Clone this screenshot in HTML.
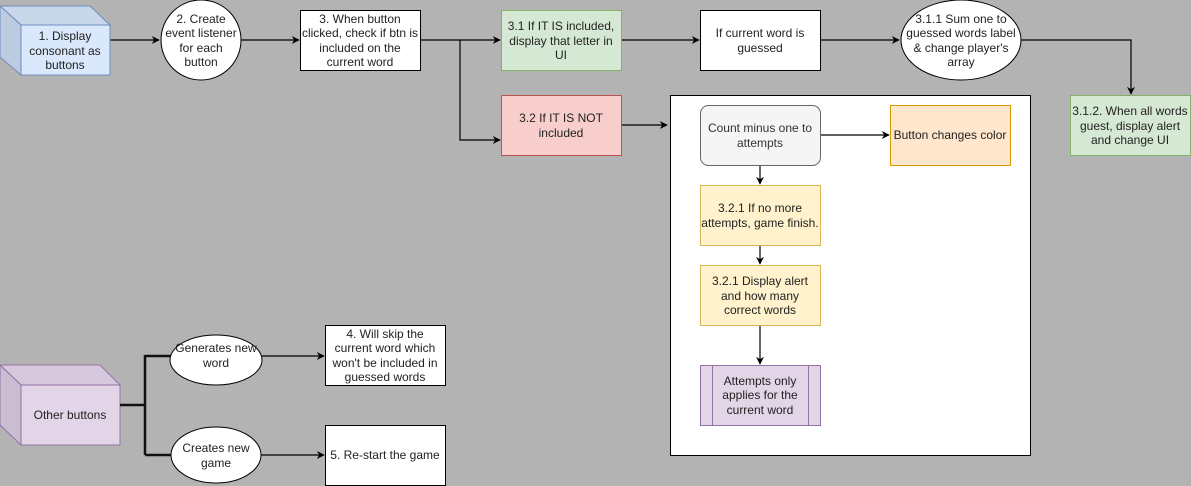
<!DOCTYPE html>
<html><head><meta charset="utf-8"><style>
html,body{margin:0;padding:0;background:#b3b3b3;}
svg{display:block;}
text{font-family:"Liberation Sans",Arial,sans-serif;font-size:12px;fill:#222;text-anchor:middle;}
</style></head><body>
<svg width="1191" height="486" viewBox="0 0 1191 486" xmlns="http://www.w3.org/2000/svg">
<defs>
<marker id="a" viewBox="0 0 10 10" refX="9" refY="5" markerWidth="8" markerHeight="8" orient="auto" markerUnits="userSpaceOnUse"><path d="M0,0 L10,5 L0,10 L3,5 z" fill="#000"/></marker>
</defs>
<rect x="0" y="0" width="1191" height="486" fill="#b3b3b3"/>
<g stroke="#000" stroke-width="1.2" fill="none">
<path d="M90,40 H159" marker-end="url(#a)"/>
<path d="M241,40 H299" marker-end="url(#a)"/>
<path d="M420,40 H500" marker-end="url(#a)"/>
<path d="M460,40 V140 H500" marker-end="url(#a)"/>
<path d="M621,40 H699" marker-end="url(#a)"/>
<path d="M820,40 H899" marker-end="url(#a)"/>
<path d="M1021,40 H1131 V94" marker-end="url(#a)"/>
<path d="M621,125 H667" marker-end="url(#a)"/>
</g>
<!-- cube 1 -->
<polygon points="0,6 90,6 110,25 21,25" fill="#c9d7ea" stroke="#6c8ebf"/>
<polygon points="0,6 21,25 21,75 0,57" fill="#bccbe0" stroke="#6c8ebf"/>
<rect x="21" y="25" width="89" height="50" fill="#dae8fc" stroke="#6c8ebf"/>
<text x="65" y="40">1. Display</text><text x="65" y="55">consonant  as</text><text x="65" y="69">buttons</text>
<ellipse cx="201" cy="40" rx="40" ry="40" fill="#fff" stroke="#000"/>
<text x="201" y="23">2. Create</text><text x="201" y="37">event listener</text><text x="201" y="52">for each</text><text x="201" y="66">button</text>
<rect x="300.5" y="10.5" width="120" height="60" fill="#fff" stroke="#000"/>
<text x="360" y="23">3. When button</text><text x="360" y="37">clicked, check if btn is</text><text x="360" y="52">included on the</text><text x="360" y="66">current word</text>
<rect x="501.5" y="10.5" width="120" height="60" fill="#d5e8d4" stroke="#82b366"/>
<text x="561" y="30">3.1 If IT IS included,</text><text x="561" y="45">display that letter in</text><text x="561" y="59">UI</text>
<rect x="501.5" y="95.5" width="120" height="60" fill="#f8cecc" stroke="#b85450"/>
<text x="561" y="122">3.2 If IT IS NOT</text><text x="561" y="137">included</text>
<rect x="700.5" y="10.5" width="120" height="60" fill="#fff" stroke="#000"/>
<text x="760" y="37">If current word is</text><text x="760" y="52">guessed</text>
<ellipse cx="961" cy="40" rx="60" ry="40" fill="#fff" stroke="#000"/>
<text x="961" y="23">3.1.1 Sum one to</text><text x="961" y="37">guessed words label</text><text x="961" y="52">&amp; change player's</text><text x="961" y="66">array</text>
<rect x="1070.5" y="95.5" width="120" height="60" fill="#d5e8d4" stroke="#82b366"/>
<text x="1130" y="115">3.1.2. When all words</text><text x="1130" y="130">guest, display alert</text><text x="1130" y="144">and change UI</text>
<!-- big white box -->
<rect x="670.5" y="95.5" width="360" height="360" fill="#fff" stroke="#000"/>
<g stroke="#000" stroke-width="1.2" fill="none">
<path d="M820,135 H889" marker-end="url(#a)"/>
<path d="M760,165 V184" marker-end="url(#a)"/>
<path d="M760,245 V264" marker-end="url(#a)"/>
<path d="M760,325 V364" marker-end="url(#a)"/>
</g>
<rect x="700.5" y="105.5" width="120" height="60" rx="8" fill="#f5f5f5" stroke="#666"/>
<text x="760" y="132" style="fill:#333">Count minus one to</text><text x="760" y="147" style="fill:#333">attempts</text>
<rect x="890.5" y="105.5" width="120" height="60" fill="#ffe6cc" stroke="#d79b00"/>
<text x="950" y="139">Button changes color</text>
<rect x="700.5" y="185.5" width="120" height="60" fill="#fff2cc" stroke="#d6b656"/>
<text x="760" y="212">3.2.1 If no more</text><text x="760" y="227">attempts, game finish.</text>
<rect x="700.5" y="265.5" width="120" height="60" fill="#fff2cc" stroke="#d6b656"/>
<text x="760" y="285">3.2.1 Display alert</text><text x="760" y="300">and how many</text><text x="760" y="314">correct words</text>
<rect x="700.5" y="365.5" width="120" height="60" fill="#e1d5e7" stroke="#9673a6"/>
<line x1="712.5" y1="365" x2="712.5" y2="426" stroke="#9673a6"/>
<line x1="808.5" y1="365" x2="808.5" y2="426" stroke="#9673a6"/>
<text x="760" y="385">Attempts only</text><text x="760" y="399">applies for the</text><text x="760" y="414">current word</text>
<!-- other buttons -->
<polygon points="0,365 100,365 120,385 21,385" fill="#d6c8dc" stroke="#9673a6"/>
<polygon points="0,365 21,385 21,445 0,425" fill="#cbbdd1" stroke="#9673a6"/>
<rect x="21" y="385" width="99" height="60" fill="#e1d5e7" stroke="#9673a6"/>
<text x="70" y="419">Other buttons</text>
<path d="M120,405 H145 M145,355 V455 M145,356 H172 M145,455 H172" stroke="#111" stroke-width="2.5" fill="none"/>
<g stroke="#000" stroke-width="1.2" fill="none">
<path d="M262,356 H324" marker-end="url(#a)"/>
<path d="M261,455 H324" marker-end="url(#a)"/>
</g>
<ellipse cx="216" cy="360" rx="46" ry="25" fill="#fff" stroke="#000"/>
<text x="216" y="352">Generates new</text><text x="216" y="367">word</text>
<ellipse cx="216" cy="455" rx="45" ry="28" fill="#fff" stroke="#000"/>
<text x="216" y="452">Creates new</text><text x="216" y="467">game</text>
<rect x="325.5" y="325.5" width="120" height="60" fill="#fff" stroke="#000"/>
<text x="385" y="338">4. Will skip the</text><text x="385" y="352">current word which</text><text x="385" y="367">won't be included in</text><text x="385" y="381">guessed words</text>
<rect x="325.5" y="425.5" width="120" height="60" fill="#fff" stroke="#000"/>
<text x="385" y="459">5. Re-start the game</text>
</svg>
</body></html>
